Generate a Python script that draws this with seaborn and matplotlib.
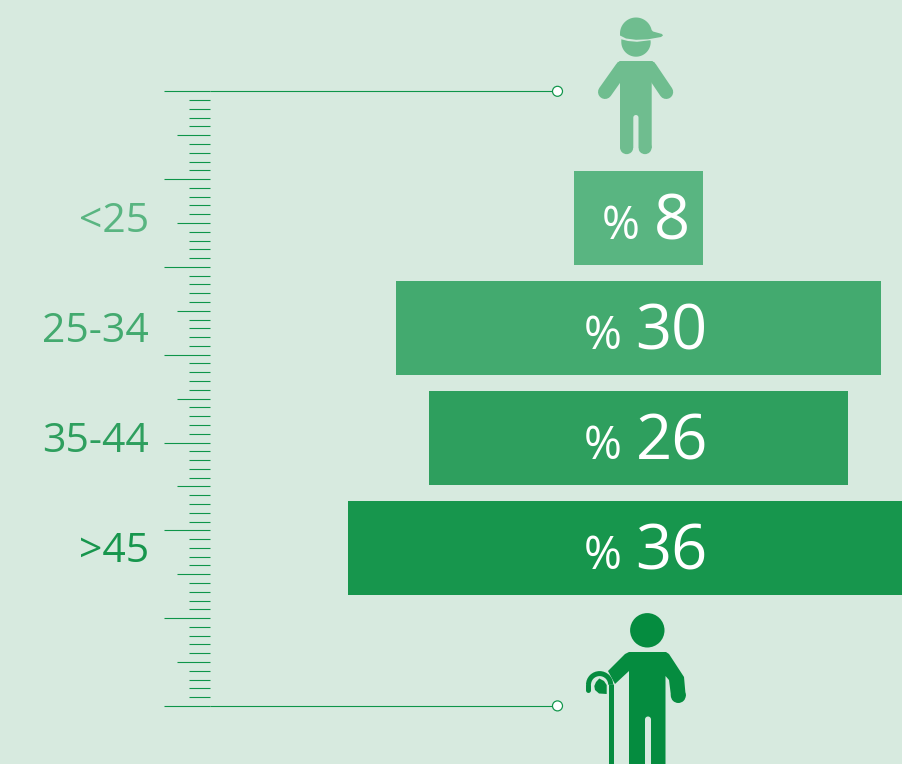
import numpy as np
import pandas as pd
import matplotlib.pyplot as plt
from matplotlib.patches import Circle, Polygon, Arc
import seaborn as sns

ages = ['<25', '25-34', '35-44', '>45']
shares = [8, 30, 26, 36]
bar_colors = ['#59b581', '#43aa6f', '#2e9f5e', '#17964d']
label_colors = ['#59b581', '#43aa6f', '#2e9f5e', '#17964d']
ruler_ticks = list(range(0, 71))

bg = '#d7eadf'
line_green = '#0e9549'
young_green = '#6fbd8f'
old_green = '#058c3f'
W, H = 903, 764
px = 0.72  # one pixel in points at dpi 100

sns.set_theme(style='white')
plt.rcParams['font.family'] = ['Open Sans', 'DejaVu Sans']

fig = plt.figure(figsize=(W / 100, H / 100), dpi=100, facecolor=bg)

# bars, centred on x=638.5, 16.15 px per percent, rows 110 px apart
ax = fig.add_axes([0, 0, 1, 1])
df = pd.DataFrame({'age': ages, 'share': shares})
sns.barplot(data=df, y='age', x='share', width=94 / 110, saturation=1, linewidth=0, ax=ax)
for bar, c in zip(ax.patches, bar_colors):
    bar.set_facecolor(c)
    bar.set_x(-bar.get_width() / 2)  # centre the bar on zero
ax.set_xlim(-638.5 / 16.15, (W - 638.5) / 16.15)
ax.set_ylim((H - 218) / 110, -218 / 110)
ax.axis('off')

for i, (a, s) in enumerate(zip(ages, shares)):
    width = 36 * len(str(s))
    start = 7.5 - (51 + width) / 2
    ax.annotate(str(s), (0, i), xytext=(start + 51, -21.5), textcoords='offset pixels',
                ha='left', va='baseline', color='white', fontsize=45.5)
    ax.annotate('%', (0, i), xytext=(start + 37.5, -21), textcoords='offset pixels',
                ha='right', va='baseline', color='white', fontsize=33)
    ax.text(149 / W, i + 13.5 / 110, a, transform=ax.get_yaxis_transform(),
            ha='right', va='baseline', color=label_colors[i], fontsize=29.5)

# overlay in pixel coordinates for the ruler and the figures
ov = fig.add_axes([0, 0, 1, 1], facecolor='none')
ov.set_xlim(0, W)
ov.set_ylim(H, 0)
ov.axis('off')

for t in ruler_ticks:
    y = 91.3 + t * 8.78
    if t % 10 == 0:
        left = 164.5
    elif t % 5 == 0:
        left = 177.5
    else:
        left = 189.5
    ov.plot([left, 210], [y, y], color=line_green, lw=1.1 * px, solid_capstyle='butt')

for y in [91.3, 705.9]:
    ov.plot([210, 553], [y, y], color=line_green, lw=1.1 * px, solid_capstyle='butt')
    ov.add_patch(Circle((557.5, y), 5, fc='white', ec=line_green, lw=1.2 * px, zorder=3))

# young figure with cap
def limb(xs, ys, w, c):
    ov.plot(xs, ys, color=c, lw=w * px, solid_capstyle='round', solid_joinstyle='round')

c = young_green
t = np.linspace(np.pi, 2 * np.pi - 0.22, 40)
dome = np.column_stack([636 + 16 * np.cos(t), 33.5 + 16 * np.sin(t)]).tolist()
ov.add_patch(Polygon(dome + [(653, 31.5), (662, 34), (663, 35.5), (661, 37), (648, 39.3),
                             (636, 39.8), (626, 38.5), (620, 35.5)], fc=c, ec='none'))
t = np.linspace(0, np.pi, 40)
ov.add_patch(Polygon(np.column_stack([636 + 14.7 * np.cos(t), 42 + 14.7 * np.sin(t)]).tolist()
                     + [(621.3, 39.3), (628, 41), (637, 41.8), (650.5, 40.2)], fc=c, ec='none'))
ov.add_patch(Polygon([(620, 148), (620, 82), (617, 63), (620, 61), (652, 61), (655, 63), (651.7, 82),
                      (651.7, 148)], fc=c, ec='none'))
limb([622, 605], [68, 92], 14, c)
limb([650, 666.2], [68, 92], 14, c)
ov.add_patch(Circle((626.65, 147.5), 6.65, fc=c, ec='none'))
ov.add_patch(Circle((645, 147.5), 6.65, fc=c, ec='none'))
t = np.linspace(np.pi, 2 * np.pi, 20)
ov.add_patch(Polygon(np.column_stack([635.9 + 2.6 * np.cos(t), 117.6 + 2.6 * np.sin(t)]).tolist()
                     + [(638.5, 156), (633.3, 156)], fc=bg, ec='none', zorder=3))

# old figure with cane
c = old_green
ov.add_patch(Circle((647.3, 630.3), 17.2, fc=c, ec='none'))
ov.add_patch(Polygon([(629, 764), (629, 671), (615, 684), (608, 671), (625, 654), (629, 652),
                      (666, 652), (669, 654), (684, 677), (685.7, 696), (671, 696), (669, 680),
                      (665.5, 676), (665.5, 764)], fc=c, ec='none'))
ov.add_patch(Circle((678.3, 695.5), 7.5, fc=c, ec='none'))
t = np.linspace(np.pi, 2 * np.pi, 20)
ov.add_patch(Polygon(np.column_stack([648 + 3 * np.cos(t), 719.5 + 3 * np.sin(t)]).tolist()
                     + [(651, 764), (645, 764)], fc=bg, ec='none', zorder=3))
ov.plot([610.7, 610.7], [684, 764], color=c, lw=5 * px, solid_capstyle='butt')
ov.add_patch(Arc((599.6, 684.7), 22.2, 22.2, theta1=180, theta2=360, ec=c, lw=5 * px))
limb([588.5, 588.5], [684.7, 690], 5, c)
ov.add_patch(Polygon([(599.3, 678.5), (596, 682), (594.3, 686), (595, 690), (599, 693.5), (606.7, 694),
                      (606.7, 685), (604, 681)], fc=c, ec='none'))

fig.savefig('out.png', dpi=100, facecolor=bg)
